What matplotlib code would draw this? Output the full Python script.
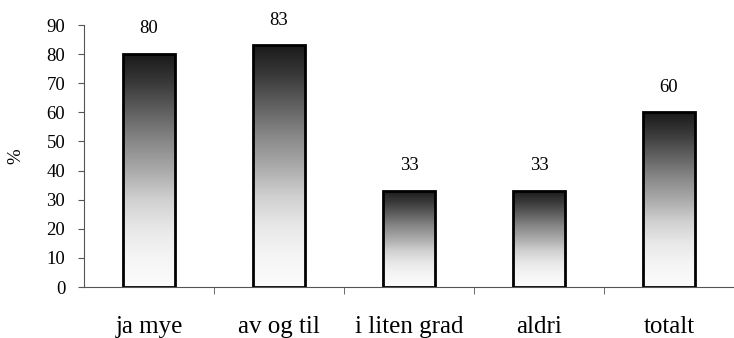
import numpy as np
import matplotlib
matplotlib.use("Agg")
import matplotlib.pyplot as plt
from matplotlib.colors import LinearSegmentedColormap
from matplotlib.patches import Rectangle

categories = ["ja mye", "av og til", "i liten grad", "aldri", "totalt"]
values = [80, 83, 33, 33, 60]

plt.rcParams["font.family"] = ["Liberation Serif", "DejaVu Serif"]

fig = plt.figure(figsize=(7.34, 3.38), dpi=100)
ax = fig.add_axes([84 / 734, 51 / 338, 650 / 734, 262 / 338])

# vertical shading: white at the base, near black at the top
cmap = LinearSegmentedColormap.from_list("bargrad", [
    (0.0, "#fcfcfc"), (0.125, "#f5f5f5"), (0.25, "#e8e8e8"), (0.375, "#d0d0d0"),
    (0.5, "#aaaaaa"), (0.625, "#888888"), (0.875, "#3a3a3a"), (1.0, "#1a1a1a")])
grad = np.linspace(0, 1, 256).reshape(-1, 1)
width = 0.4
x = np.arange(len(categories))
for xi, v in zip(x, values):
    rect = Rectangle((xi - width / 2, 0), width, v, facecolor="none",
                     edgecolor="black", linewidth=2, zorder=3)
    ax.add_patch(rect)
    im = ax.imshow(grad, cmap=cmap, aspect="auto", origin="lower",
                   extent=(xi - width / 2, xi + width / 2, 0, v), zorder=2)
    im.set_clip_path(rect)
    ax.annotate(f"{v}", (xi, v), xytext=(0, 12), textcoords="offset points",
                ha="center", va="bottom", fontsize=13.5)

ax.set_xlim(-0.5, len(categories) - 0.5)
ax.set_ylim(0, 90)
ax.set_yticks(range(0, 91, 10))
ax.set_xticks(x)
ax.set_xticklabels(categories, fontsize=18)
ax.set_xticks(x[:-1] + 0.5, minor=True)
ax.tick_params(axis="x", which="major", length=0, pad=21)
ax.tick_params(axis="x", which="minor", length=5, direction="out", color="#555555")
ax.tick_params(axis="y", length=4.5, direction="out", labelsize=13.5, color="#555555", pad=9)
for s in ["top", "right"]:
    ax.spines[s].set_visible(False)
for s in ["left", "bottom"]:
    ax.spines[s].set_color("#555555")
ax.set_ylabel("%", fontsize=13.5, labelpad=16)

fig.savefig("out.png", dpi=100)
